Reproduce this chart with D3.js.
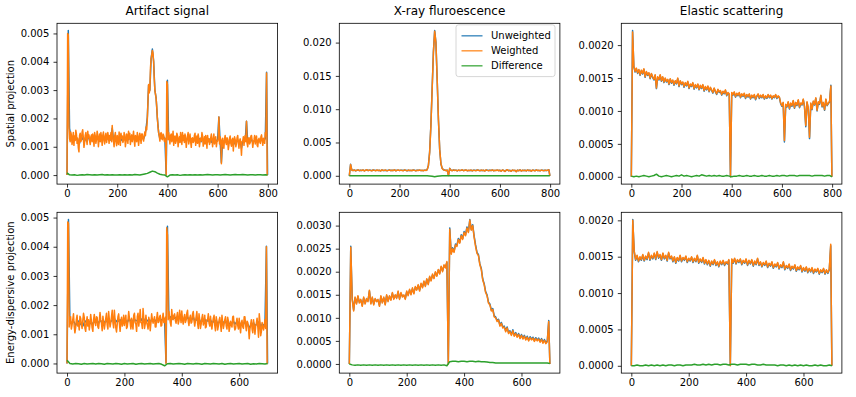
<!DOCTYPE html>
<html><head><meta charset="utf-8">
<script src="https://cdn.jsdelivr.net/npm/d3@7"></script>
<style>
body{margin:0;background:#fff}
svg{display:block}
text{font-family:"DejaVu Sans",sans-serif}
</style>
</head><body>
<svg id="chart" width="856" height="397"></svg>
<script>
// ---------------- DATA (series values are in units of 1e-5) ----------------
const UNIT = 1e-5;
const titles = ["Artifact signal", "X-ray fluroescence", "Elastic scattering"];
const rowLabels = ["Spatial projection", "Energy-dispersive projection"];
const seriesNames = ["Unweighted", "Weighted", "Difference"];
const xTicksTop = [0, 200, 400, 600, 800];
const xTicksBottom = [0, 200, 400, 600];
const yTicksArtifactSpatial = [0, 0.001, 0.002, 0.003, 0.004, 0.005];
const yTicksXrfSpatial = [0, 0.005, 0.010, 0.015, 0.020];
const yTicksElasticSpatial = [0, 0.0005, 0.0010, 0.0015, 0.0020];
const yTicksArtifactEnergy = [0, 0.001, 0.002, 0.003, 0.004, 0.005];
const yTicksXrfEnergy = [0, 0.0005, 0.0010, 0.0015, 0.0020, 0.0025, 0.0030];
const yTicksElasticEnergy = [0, 0.0005, 0.0010, 0.0015, 0.0020];
const yTickDecimals = [3, 3, 4, 3, 4, 4];

// sample positions (channel index)
const topXd = d3.range(0, 800, 2.5).concat([799]);
const topX = d3.range(0, 800, 5).concat([799]);
const topXc = d3.range(0, 800, 10).concat([799]);
const botXd = d3.range(0, 700, 2.5).concat([699]);
const botX = d3.range(0, 700, 5).concat([699]);
const botXc = d3.range(0, 700, 10).concat([699]);

// Artifact signal - spatial projection
const unweighted1 = [
0,510,165,140,128,122,135,125,130,120,112,132,126,135,120,130,128,136,122,130,
126,132,122,130,128,134,120,130,126,132,124,128,130,126,122,128,165,124,130,120,
128,125,132,122,130,126,134,122,128,125,132,124,128,130,134,122,128,126,132,124,
132,128,140,165,205,318,300,410,445,402,300,272,200,150,128,140,130,135,125,2,
335,130,135,122,130,126,134,124,128,126,132,118,126,125,130,122,128,126,130,120,
126,124,130,120,128,122,130,118,126,124,130,120,126,122,128,116,124,122,128,120,
124,205,118,45,122,115,126,118,120,112,124,118,122,110,120,118,124,112,120,95,
120,118,124,190,115,122,120,126,114,120,118,124,116,122,120,126,118,122,130,363,
0];
const weighted1 = [
0,500,495,172,130,118,152,140,108,126,150,105,138,122,158,145,112,130,96,82,
140,148,118,125,152,160,132,98,115,140,150,125,108,155,132,142,120,108,135,142,
118,145,130,102,150,138,112,125,155,140,100,128,145,118,150,132,105,140,152,122,
110,138,148,115,128,150,135,112,140,125,150,118,175,140,120,100,138,150,118,104,
140,122,108,152,135,105,148,130,138,115,122,150,142,100,118,145,135,112,155,128,
148,108,130,142,118,135,155,122,102,140,130,118,150,138,105,125,148,132,112,145,
145,128,120,138,152,140,170,160,200,260,320,290,300,380,410,425,440,430,400,340,
300,285,270,240,200,170,150,138,120,145,150,128,125,145,140,120,118,130,0,330,
320,125,150,132,110,140,145,118,128,155,105,130,138,112,120,148,140,100,125,135,
115,150,128,108,150,122,140,115,145,132,98,120,138,150,110,128,145,118,98,130,
132,115,118,140,148,105,125,138,112,145,130,100,118,130,120,150,138,102,115,135,
110,140,125,95,140,118,128,108,115,132,145,122,100,128,145,110,120,135,100,118,
120,130,205,110,135,125,40,118,130,102,95,128,140,115,108,132,125,90,105,130,
138,112,102,125,130,85,118,135,125,100,110,132,140,115,95,122,128,108,70,118,
120,135,105,128,140,118,190,112,100,128,132,110,115,138,140,122,98,115,125,140,
110,128,138,105,100,125,130,118,112,135,142,120,105,130,125,112,150,138,360,0,
0];
const difference1 = [
8,1,0,1,-1,0,1,0,2,1,
0,1,0,1,2,0,1,0,1,0,
0,1,0,1,0,1,0,2,1,0,
2,4,6,10,14,12,7,3,1,0,
-6,0,1,0,1,-1,0,1,0,1,
0,1,0,1,0,1,2,1,0,1,
1,0,1,2,1,0,1,2,1,1,
2,1,0,1,1,0,1,1,0,1,
0];

// X-ray fluorescence - spatial projection
const unweighted2 = [
0,172,86,80,86,76,84,88,78,83,81,86,75,85,89,79,84,82,77,87,
83,78,85,81,82,74,88,80,81,84,77,83,86,79,82,81,89,76,84,85,
80,83,82,78,87,84,76,84,81,81,79,86,83,77,82,82,85,80,81,78,
83,82,92,155,360,765,1315,1860,2180,2005,1440,840,395,178,112,92,86,80,84,7,
112,84,78,86,82,83,75,85,81,82,88,78,84,86,77,81,81,84,76,83,
82,79,86,84,77,84,81,82,74,87,83,78,83,80,88,76,81,82,85,78,
82,72,86,81,67,83,90,76,83,70,85,80,81,64,84,77,88,73,82,81,
84,75,86,79,82,72,84,82,77,87,80,81,76,85,82,78,83,81,84,92,
0];
const weighted2 = [
0,170,84,78,88,74,82,90,76,85,79,88,73,83,91,77,86,80,75,89,
81,76,87,79,84,72,90,78,83,86,75,81,88,77,84,79,91,74,82,87,
78,85,80,76,89,82,74,86,79,83,77,88,81,75,84,80,87,78,83,76,
85,80,90,150,350,750,1300,1850,2170,2000,1450,850,400,180,110,90,84,78,86,5,
110,82,76,88,80,85,73,87,79,84,90,76,82,88,75,83,79,86,74,85,
80,77,88,82,75,86,79,84,72,89,81,76,85,78,90,74,83,80,87,76,
84,70,88,79,65,85,92,74,81,68,87,78,83,62,86,75,90,71,84,79,
82,73,88,77,84,70,86,80,75,89,78,83,74,87,80,76,85,79,82,90,
0];
const difference2 = [
2,0,-1,0,1,0,-1,0,0,1,
0,-1,0,1,0,0,-1,0,1,0,
0,1,0,-1,0,0,1,0,-1,0,
0,-1,-3,-6,-15,-8,-2,0,1,0,
2,0,-1,0,1,0,0,-1,0,1,
0,0,1,0,-1,0,1,0,0,-1,
0,1,0,0,-1,0,1,0,0,1,
0,-1,0,1,0,0,-1,0,1,2,
0];

// Elastic scattering - spatial projection
const unweighted3 = [
0,222,167,159,164,157,162,154,161,156,163,151,159,154,157,149,156,151,147,154,
134,151,147,154,145,151,143,149,144,147,140,148,142,146,139,145,141,149,137,145,
140,143,136,142,138,144,134,140,137,142,133,139,135,140,132,138,134,139,130,136,
132,137,129,135,131,127,134,129,125,132,128,130,124,129,126,131,123,127,125,0,
127,124,128,121,126,123,127,120,125,122,126,119,124,121,125,118,123,120,124,117,
122,125,119,123,120,124,118,122,119,124,120,123,118,122,120,124,119,122,120,111,
107,112,53,109,106,113,103,111,107,115,104,112,108,116,105,111,109,117,106,76,
113,103,58,111,102,114,109,119,100,113,110,123,106,112,101,117,108,111,114,139,
0];
const weighted3 = [
0,220,168,160,165,158,163,155,162,157,164,152,160,155,158,150,157,152,148,155,
135,152,148,155,146,152,144,150,145,148,141,149,143,147,140,146,142,150,138,146,
141,144,137,143,139,145,135,141,138,143,134,140,136,141,133,139,135,140,131,137,
133,138,130,136,132,128,135,130,126,133,129,131,125,130,127,132,124,128,126,0,
128,125,129,122,127,124,128,121,126,123,127,120,125,122,126,119,124,121,125,118,
123,126,120,124,121,125,119,123,120,125,121,124,119,123,121,125,120,123,121,112,
108,113,55,110,107,114,104,112,108,116,105,113,109,117,106,112,110,118,107,78,
114,104,60,112,103,115,110,120,101,114,111,124,107,113,102,118,109,112,115,138,
0];
const difference3 = [
1,0,1,0,1,2,1,0,1,2,
4,1,0,1,2,1,0,1,2,1,
3,1,2,1,0,1,2,1,3,2,
1,2,1,2,1,2,1,1,2,1,
0,1,1,2,1,1,2,1,1,2,
1,1,2,1,1,2,1,1,2,1,
2,2,1,2,2,2,1,2,2,2,
2,2,1,2,2,2,2,1,2,2,
0];

// Artifact signal - energy-dispersive projection
const unweighted4 = [
0,493,140,138,145,142,130,140,145,138,132,128,140,145,138,142,136,140,135,145,
140,145,138,150,142,146,140,148,142,152,140,146,150,155,142,148,145,150,138,146,
142,148,140,152,146,150,140,152,146,148,142,155,148,158,145,150,146,150,140,152,
148,150,145,155,150,152,148,155,152,2,470,155,160,150,162,155,158,150,160,152,
160,150,155,152,160,148,155,150,160,145,150,148,155,140,148,145,152,142,148,145,
150,138,145,140,148,135,142,140,148,138,145,138,148,132,140,138,145,135,140,138,
142,130,138,135,145,128,135,120,132,130,140,128,135,130,145,125,135,130,138,402,
0];
const weighted4 = [
0,485,480,125,155,160,118,132,150,170,128,105,122,150,165,128,140,115,162,155,
135,120,148,172,158,120,110,140,160,128,150,115,135,168,145,122,110,150,168,140,
130,160,158,125,120,145,175,150,138,112,162,140,118,135,155,172,132,118,178,150,
125,140,160,182,140,122,182,150,122,108,135,160,170,138,110,145,158,128,140,165,
130,150,165,120,125,148,178,155,140,118,155,132,118,165,172,140,135,110,160,172,
128,150,185,140,140,120,188,155,120,135,165,140,132,118,158,145,112,140,170,150,
138,150,160,125,125,155,175,140,142,160,165,128,130,155,172,140,145,158,0,465,
440,150,178,160,140,128,185,155,150,165,170,148,138,160,175,135,145,182,160,140,
180,150,135,158,168,140,148,172,182,145,130,155,165,138,142,170,178,150,128,145,
160,178,138,120,170,150,120,135,155,168,132,140,165,122,125,150,150,170,138,128,
162,135,118,140,155,165,130,112,160,145,115,128,148,158,135,110,165,142,120,135,
150,160,128,118,158,145,110,125,145,132,125,160,162,130,115,120,140,155,130,118,
155,128,105,140,148,125,120,160,160,132,112,145,140,122,85,118,135,150,118,105,
150,130,100,128,138,155,125,90,170,140,95,110,140,125,115,130,150,120,400,0,
0];
const difference4 = [
11,0,-2,0,-1,-3,0,-2,-1,0,
-2,0,-1,-3,0,-1,-2,0,-1,-3,
0,-2,-1,0,-3,-1,0,-2,-1,0,
-2,-1,0,-3,-8,-1,0,-2,-1,0,
-1,-3,0,-1,-2,0,-1,-3,0,-1,
-2,0,-1,-2,0,-3,-1,0,-2,-1,
0,-2,-1,0,-3,-1,-2,0,-1,-2,
0];

// X-ray fluorescence - energy-dispersive projection
const unweighted5 = [
0,255,142,117,143,132,146,134,138,127,143,132,140,137,158,132,143,130,140,137,
138,127,146,134,143,130,148,137,146,140,153,142,148,144,156,142,153,147,148,142,
156,150,160,152,163,154,166,162,170,160,173,167,178,170,183,174,188,182,193,187,
198,192,203,197,210,202,213,210,220,2,295,240,252,244,260,257,272,264,280,272,
287,280,297,287,313,292,302,277,258,242,237,217,207,184,174,157,150,134,130,117,
120,104,102,94,97,84,90,80,82,72,80,68,72,64,74,62,68,60,66,57,
64,56,62,54,60,52,59,54,58,51,57,52,56,49,55,47,53,46,50,94,
0];
const weighted5 = [
0,253,140,115,145,130,148,132,140,125,145,130,142,135,160,130,145,128,142,135,
140,125,148,132,145,128,150,135,148,138,155,140,150,142,158,140,155,145,150,140,
158,148,162,150,165,152,168,160,172,158,175,165,180,168,185,172,190,180,195,185,
200,190,205,195,212,200,215,208,222,0,292,238,250,242,258,255,270,262,278,270,
285,278,295,285,312,290,300,275,255,240,235,215,205,182,172,155,148,132,128,115,
118,102,100,92,95,82,88,78,80,70,78,66,70,62,72,60,66,58,64,55,
62,54,60,52,58,50,57,52,56,49,55,50,54,47,53,45,51,44,48,92,
0];
const difference5 = [
0,-2,-3,-2,-3,-2,-3,-2,-3,-2,
-3,-2,-3,-2,-3,-2,-3,-2,-3,-2,
-3,-2,-3,-2,-3,-2,-3,-2,-3,-2,
-3,-2,-3,-2,-4,5,6,6,5,6,
6,5,6,6,5,6,5,5,4,3,
3,2,2,2,2,2,2,2,2,2,
2,2,2,2,2,2,2,2,2,2,
1];

// Elastic scattering - energy-dispersive projection
const unweighted6 = [
0,201,157,145,151,143,149,145,152,144,150,146,155,145,151,147,154,146,156,148,
152,145,154,147,151,144,155,147,150,143,149,141,148,144,151,143,148,145,150,142,
147,144,149,142,147,143,151,141,146,142,148,140,145,139,144,137,143,139,145,138,
142,136,143,139,144,138,142,140,145,1,146,141,147,140,145,142,146,139,144,141,
146,138,144,140,145,137,143,139,147,138,142,136,141,138,143,135,140,137,142,134,
139,136,141,133,138,135,142,132,137,134,139,131,136,133,138,130,135,132,137,129,
134,130,135,128,133,129,134,127,132,129,133,126,131,128,133,126,131,127,132,165,
0];
const weighted6 = [
0,200,158,146,152,144,150,146,153,145,151,147,156,146,152,148,155,147,157,149,
153,146,155,148,152,145,156,148,151,144,150,142,149,145,152,144,149,146,151,143,
148,145,150,143,148,144,152,142,147,143,149,141,146,140,145,138,144,140,146,139,
143,137,144,140,145,139,143,141,146,0,147,142,148,141,146,143,147,140,145,142,
147,139,145,141,146,138,144,140,148,139,143,137,142,139,144,136,141,138,143,135,
140,137,142,134,139,136,143,133,138,135,140,132,137,134,139,131,136,133,138,130,
135,131,136,129,134,130,135,128,133,130,134,127,132,129,134,127,132,128,133,167,
0];
const difference6 = [
0,0,1,0,0,1,0,1,0,1,
0,1,0,1,1,0,1,1,0,1,
1,1,2,1,1,2,1,2,1,2,
2,1,2,2,1,2,2,1,2,2,
2,1,2,2,1,1,2,1,1,1,
1,0,1,1,0,1,0,1,0,1,
0,1,0,0,1,0,1,0,0,1,
0];

// ---------------- LAYOUT / STYLE ----------------
const colors = ["#1f77b4", "#ff7f0e", "#2ca02c"];
const W = 856, H = 397;
const panelLeft = [57, 339.3, 621.3];
const panelTop = [23.3, 212.3];
const PW = 220.6, PH = 160.8;

const panels = [
  {r:0,c:0, xs:[topX, topXd, topXc], series:[unweighted1, weighted1, difference1], yTicks:yTicksArtifactSpatial, xTicks:xTicksTop},
  {r:0,c:1, xs:[topX, topX, topXc], series:[unweighted2, weighted2, difference2], yTicks:yTicksXrfSpatial, xTicks:xTicksTop},
  {r:0,c:2, xs:[topX, topX, topXc], series:[unweighted3, weighted3, difference3], yTicks:yTicksElasticSpatial, xTicks:xTicksTop},
  {r:1,c:0, xs:[botX, botXd, botXc], series:[unweighted4, weighted4, difference4], yTicks:yTicksArtifactEnergy, xTicks:xTicksBottom},
  {r:1,c:1, xs:[botX, botX, botXc], series:[unweighted5, weighted5, difference5], yTicks:yTicksXrfEnergy, xTicks:xTicksBottom},
  {r:1,c:2, xs:[botX, botX, botXc], series:[unweighted6, weighted6, difference6], yTicks:yTicksElasticEnergy, xTicks:xTicksBottom}
];

const svg = d3.select("#chart");
svg.append("rect").attr("width", W).attr("height", H).attr("fill", "#fff");

function pad(lo, hi) { const m = (hi - lo) * 0.05; return [lo - m, hi + m]; }

panels.forEach((p, k) => {
  const left = panelLeft[p.c], top = panelTop[p.r];
  const xmin = d3.min(p.xs[0]), xmax = d3.max(p.xs[0]);
  const allVals = p.series.flat().map(v => v * UNIT);
  const x = d3.scaleLinear().domain(pad(xmin, xmax)).range([left, left + PW]);
  const y = d3.scaleLinear().domain(pad(d3.min(allVals), d3.max(allVals))).range([top + PH, top]);

  const g = svg.append("g");
  const clipId = "clip" + k;
  svg.append("clipPath").attr("id", clipId).append("rect")
    .attr("x", left).attr("y", top).attr("width", PW).attr("height", PH);

  const lg = g.append("g").attr("clip-path", `url(#${clipId})`);
  p.series.forEach((vals, si) => {
    const xv = p.xs[si];
    const n = Math.min(vals.length, xv.length);
    const pts = d3.range(n).map(i => [xv[i], vals[i] * UNIT]);
    const line = d3.line().x(d => x(d[0])).y(d => y(d[1]));
    lg.append("path").attr("d", line(pts))
      .attr("fill", "none").attr("stroke", colors[si])
      .attr("stroke-width", 1.5).attr("stroke-linejoin", "round");
  });

  // frame
  g.append("rect").attr("x", left).attr("y", top).attr("width", PW).attr("height", PH)
    .attr("fill", "none").attr("stroke", "#000").attr("stroke-width", 0.8);

  // axes
  const fmt = d3.format("." + yTickDecimals[k] + "f");
  const ax = g.append("g").attr("transform", `translate(0,${top + PH})`)
    .call(d3.axisBottom(x).tickValues(p.xTicks).tickSize(3.5).tickPadding(2.1).tickFormat(d3.format("d")));
  const ay = g.append("g").attr("transform", `translate(${left},0)`)
    .call(d3.axisLeft(y).tickValues(p.yTicks).tickSize(3.5).tickPadding(4.2).tickFormat(fmt));
  [ax, ay].forEach(a => {
    a.select(".domain").remove();
    a.attr("font-family", "DejaVu Sans").attr("font-size", 10);
    a.selectAll("line").attr("stroke", "#000").attr("stroke-width", 0.8);
    a.selectAll("text").attr("fill", "#000");
  });

  if (p.r === 0) {
    svg.append("text").attr("x", left + PW / 2).attr("y", 14.8)
      .attr("text-anchor", "middle").attr("font-size", 12).attr("fill", "#000")
      .text(titles[p.c]);
  }
  if (p.c === 0) {
    const cy = top + PH / 2;
    svg.append("text").attr("transform", `translate(14.3,${cy}) rotate(-90)`)
      .attr("text-anchor", "middle").attr("font-size", 10).attr("fill", "#000")
      .text(rowLabels[p.r]);
  }

  // legend in the X-ray fluorescence spatial panel
  if (k === 1) {
    const leg = svg.append("g");
    leg.append("rect").attr("x", 456).attr("y", 24.8).attr("width", 99).attr("height", 51.8)
      .attr("rx", 2.5).attr("fill", "#fff").attr("fill-opacity", 0.8)
      .attr("stroke", "#cccccc").attr("stroke-width", 0.8);
    seriesNames.forEach((name, i) => {
      const cy = 35.8 + i * 15;
      leg.append("line").attr("x1", 461.5).attr("x2", 482.5).attr("y1", cy).attr("y2", cy)
        .attr("stroke", colors[i]).attr("stroke-width", 1.5).attr("stroke-opacity", 0.8);
      leg.append("text").attr("x", 491).attr("y", cy + 3.6).attr("font-size", 10)
        .attr("fill", "#000").text(name);
    });
  }
});
</script>
</body></html>
